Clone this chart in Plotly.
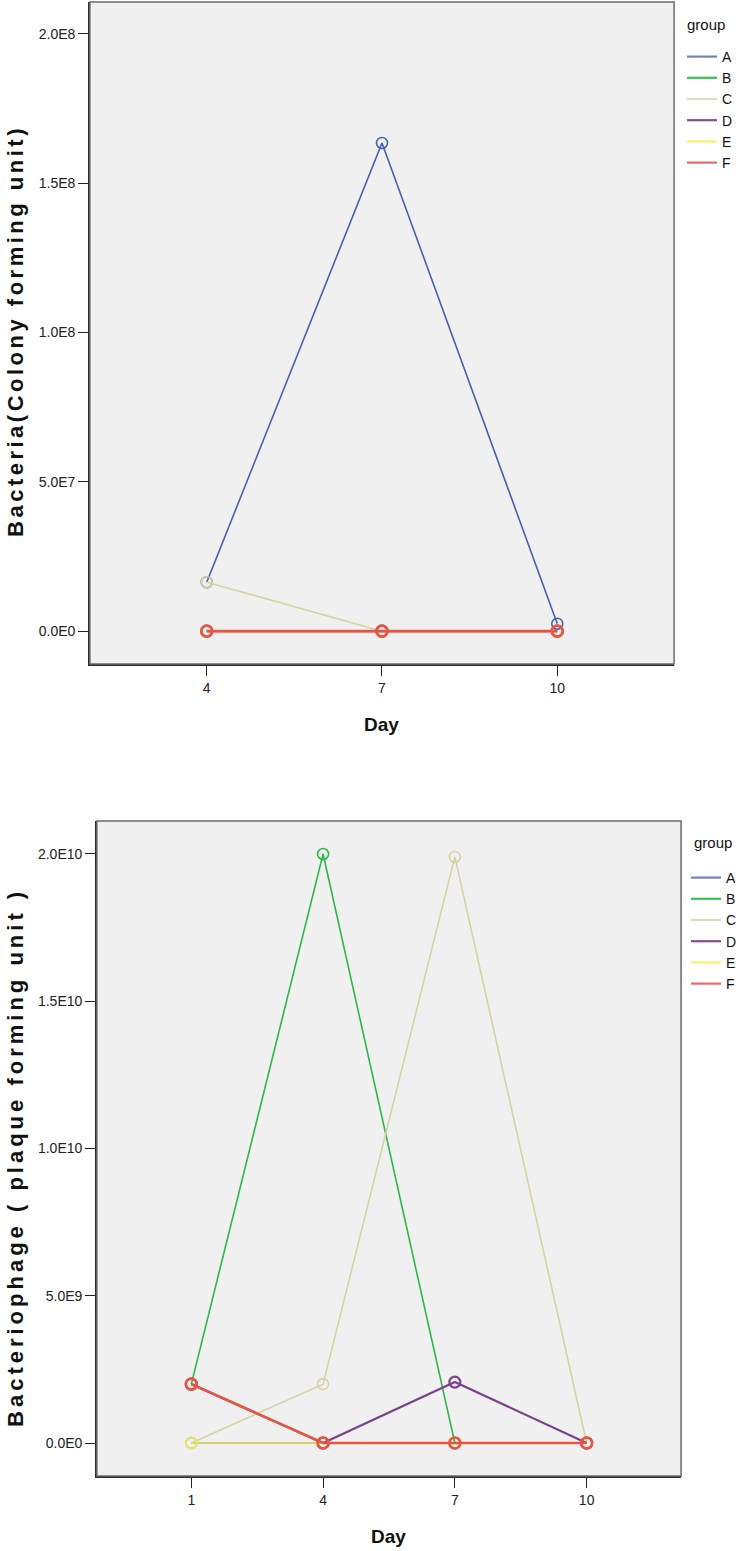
import plotly.graph_objects as go

groups = ["A", "B", "C", "D", "E", "F"]
colors = ["#4a5fb5", "#2eb848", "#d6d2a2", "#7c3f8d", "#f2ec5a", "#e8553f"]
legend_colors = ["#7281c2", "#3cbf55", "#dcdab8", "#8a4a94", "#f5ef6a", "#ea6a6e"]
line_widths = [1.6, 1.6, 1.6, 2.2, 1.6, 2.6]

# Chart 1: Bacteria (CFU)
days1 = [4, 7, 10]
bact = {
    "A": [1.64e7, 1.635e8, 2.5e6],
    "B": [0, 0, 0],
    "C": [1.64e7, 0, 0],
    "D": [0, 0, 0],
    "E": [0, 0, 0],
    "F": [0, 0, 0],
}
y1_ticks = [0, 5e7, 1e8, 1.5e8, 2e8]
y1_text = ["0.0E0", "5.0E7", "1.0E8", "1.5E8", "2.0E8"]

# Chart 2: Bacteriophage (PFU)
days2 = [1, 4, 7, 10]
phage = {
    "A": [0, 0, 0, 0],
    "B": [2.0e9, 2.0e10, 0, 0],
    "C": [0, 2.0e9, 1.99e10, 0],
    "D": [2.0e9, 0, 2.07e9, 0],
    "E": [0, 0, 0, 0],
    "F": [2.0e9, 0, 0, 0],
}
y2_ticks = [0, 5e9, 1e10, 1.5e10, 2e10]
y2_text = ["0.0E0", "5.0E9", "1.0E10", "1.5E10", "2.0E10"]

W, H = 742, 1551
FONT = "Liberation Sans, Arial, sans-serif"

fig = go.Figure()

def add_series(days, data, xa, ya, leg, prefix):
    for i, g in enumerate(groups):
        fig.add_trace(go.Scatter(
            x=days, y=data[g], name=g, mode="lines+markers",
            line=dict(color=colors[i], width=line_widths[i]),
            marker=dict(symbol="circle-open", size=11, color=colors[i],
                        line=dict(width=line_widths[i])),
            xaxis=xa, yaxis=ya, showlegend=False, hoverinfo="x+y+name",
        ))
    # legend entries (line only, as in the reference)
    for i, g in enumerate(groups):
        fig.add_trace(go.Scatter(
            x=[None], y=[None], name=g, mode="lines",
            line=dict(color=legend_colors[i], width=2.2),
            xaxis=xa, yaxis=ya, legend=leg, legendgroup=prefix + g, showlegend=True,
        ))

add_series(days1, bact, "x", "y", "legend", "a")
add_series(days2, phage, "x2", "y2", "legend2", "b")

def px_x(v):
    return v / W

def px_y(v):
    return 1 - v / H

axis_common = dict(
    showgrid=False, zeroline=False, showline=True, linecolor="#2a2a2a", linewidth=1.5,
    mirror=False, ticks="outside", ticklen=10, tickwidth=1.3, tickcolor="#222222",
    tickfont=dict(family=FONT, size=14, color="#222222"),
)

def frame(x0, x1, y0, y1):
    return dict(type="rect", xref="paper", yref="paper",
                x0=px_x(x0), x1=px_x(x1), y0=px_y(y1), y1=px_y(y0),
                line=dict(color="#6a6a6a", width=1.5), layer="above")

legend_common = dict(xanchor="left", yanchor="top", font=dict(size=14, color="#111111"),
                     tracegroupgap=0, itemwidth=30, bgcolor="rgba(0,0,0,0)")

def ann(text, x, y, size, bold=True, angle=0, xanchor="center"):
    return dict(text=("<b>%s</b>" % text) if bold else text, x=x / W, y=px_y(y),
                xref="paper", yref="paper", showarrow=False, textangle=angle,
                xanchor=xanchor, yanchor="middle",
                font=dict(size=size, family=FONT, color="#111111"))

fig.update_layout(
    width=W, height=H, autosize=False,
    margin=dict(l=0, r=0, t=0, b=0),
    paper_bgcolor="white", plot_bgcolor="#f0f0f0",
    font=dict(family=FONT, color="#222222"),
    xaxis=dict(domain=[px_x(90), px_x(675)], range=[2.0, 12.0], anchor="y",
               tickvals=days1, ticktext=[str(d) for d in days1], **axis_common),
    yaxis=dict(domain=[px_y(664), px_y(2)], range=[-1.1e7, 2.107e8], anchor="x",
               tickvals=y1_ticks, ticktext=y1_text, **axis_common),
    xaxis2=dict(domain=[px_x(97), px_x(682)], range=[-1.15, 12.15], anchor="y2",
                tickvals=days2, ticktext=[str(d) for d in days2], **axis_common),
    yaxis2=dict(domain=[px_y(1476), px_y(821)], range=[-1.12e9, 2.112e10], anchor="x2",
                tickvals=y2_ticks, ticktext=y2_text, **axis_common),
    legend=dict(x=px_x(682), y=px_y(41), **legend_common),
    legend2=dict(x=px_x(687), y=px_y(862), **legend_common),
    shapes=[frame(90, 675, 2, 664), frame(97, 682, 821, 1476)],
    annotations=[
        ann("Day", 382, 725, 19),
        ann("Day", 389, 1536, 19),
        ann("<span style='letter-spacing:3.5px'>Bacteria(Colony forming unit)</span>",
            15, 331, 22, angle=-90),
        ann("<span style='letter-spacing:4px'>Bacteriophage ( plaque forming unit )</span>",
            15, 1157, 22, angle=-90),
        ann("group", 686, 25, 15, bold=False, xanchor="left"),
        ann("group", 693, 842, 15, bold=False, xanchor="left"),
    ],
)

fig.write_html("out.html", config={"displayModeBar": False},
               post_script="document.body.style.margin='0';document.body.style.padding='0';")
